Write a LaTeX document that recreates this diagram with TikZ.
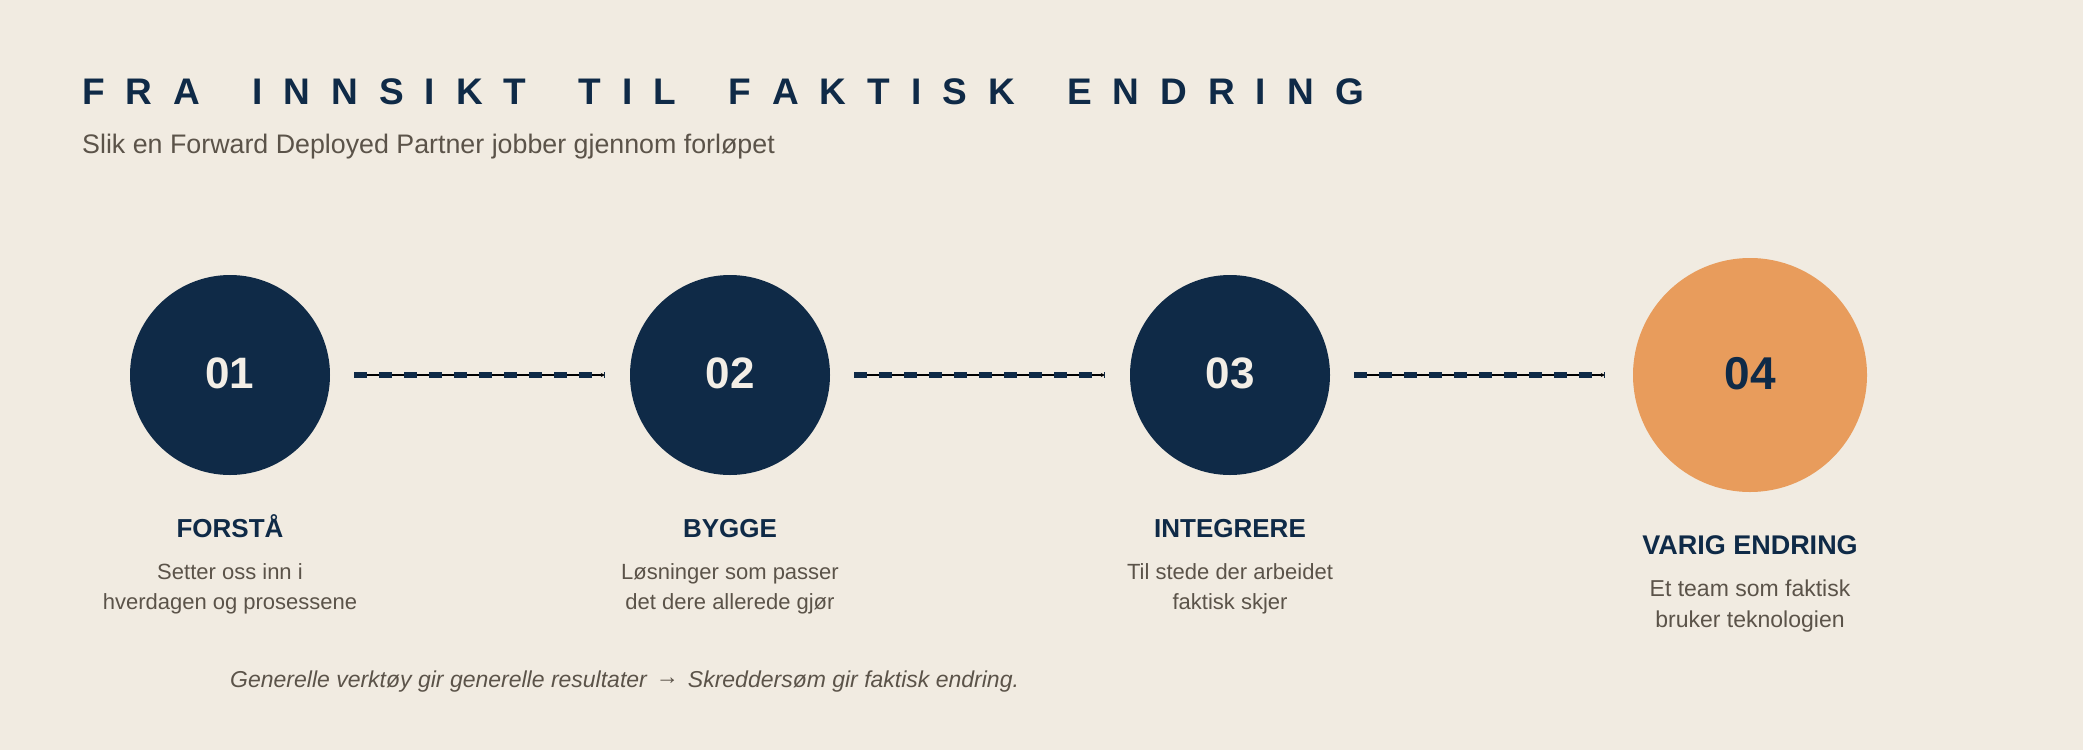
\documentclass[tikz,border=0pt]{standalone}
\usepackage{fontspec}
\setmainfont{Liberation Sans}
\usetikzlibrary{arrows.meta}
\definecolor{bg}{HTML}{F1EBE1}
\definecolor{navy}{HTML}{0F2A47}
\definecolor{orangeC}{HTML}{E89C5C}
\definecolor{grayT}{HTML}{5B5349}
\definecolor{creamT}{HTML}{F3EEE6}
\newcommand\trk[1]{\trkA#1\relax}
\def\trkA#1{\ifx\relax#1\else#1\kern21pt\expandafter\trkA\fi}
\newcommand\wsp{\kern0.278em\kern21pt}
\tikzset{
  fs/.style={font=\fontsize{#1}{#1}\selectfont},
  stepcirc/.style={circle, fill=navy, draw=none, inner sep=0pt, minimum size=200pt,
    text=creamT, font=\fontsize{44}{44}\selectfont\bfseries},
  lastcirc/.style={circle, fill=orangeC, draw=none, inner sep=0pt, minimum size=234pt,
    text=navy, font=\fontsize{46}{46}\selectfont\bfseries},
  steplabel/.style={anchor=base, inner sep=0pt, text=navy, font=\fontsize{26}{26}\selectfont\bfseries},
  stepdesc/.style={anchor=base, inner sep=0pt, text=grayT, font=\fontsize{22}{22}\selectfont},
  thinline/.style={draw=black, line width=1.4pt, -{Stealth[length=4pt,width=4pt]}},
  dashline/.style={draw=navy, line width=5.5pt, dash pattern=on 13pt off 12pt},
}
\begin{document}
\begin{tikzpicture}[x=1pt,y=-1pt]
\fill[bg] (0,0) rectangle (2083,750);
\useasboundingbox (0,0) rectangle (2083,750);

\node[anchor=base west, inner sep=0pt, text=navy, font=\fontsize{37}{37}\selectfont\bfseries] (title) at (82,104)
  {\trk{FRA}\wsp\trk{INNSIKT}\wsp\trk{TIL}\wsp\trk{FAKTISK}\wsp\trk{ENDRING}};
\node[anchor=base west, inner sep=0pt, text=grayT, fs=26.8] (subtitle) at (82,153)
  {Slik en Forward Deployed Partner jobber gjennom forløpet};

\node[stepcirc] (c1) at (230,375) {\raisebox{4pt}{01}};
\node[stepcirc] (c2) at (730,375) {\raisebox{4pt}{02}};
\node[stepcirc] (c3) at (1230,375) {\raisebox{4pt}{03}};
\node[lastcirc] (c4) at (1750,375) {\raisebox{4pt}{04}};

\draw[thinline, shorten <=24pt, shorten >=25pt] (c1) -- (c2);
\draw[dashline, shorten <=24pt, shorten >=25pt] (c1) -- (c2);
\draw[thinline, shorten <=24pt, shorten >=25pt] (c2) -- (c3);
\draw[dashline, shorten <=24pt, shorten >=25pt] (c2) -- (c3);
\draw[thinline, shorten <=24pt, shorten >=28pt] (c3) -- (c4);
\draw[dashline, shorten <=24pt, shorten >=28pt] (c3) -- (c4);

\node[steplabel] (l1) at (230,537) {FORSTÅ};
\node[stepdesc] (d1a) at (230,579) {Setter oss inn i};
\node[stepdesc] (d1b) at (230,609) {hverdagen og prosessene};

\node[steplabel] (l2) at (730,537) {BYGGE};
\node[stepdesc] (d2a) at (730,579) {Løsninger som passer};
\node[stepdesc] (d2b) at (730,609) {det dere allerede gjør};

\node[steplabel] (l3) at (1230,537) {INTEGRERE};
\node[stepdesc] (d3a) at (1230,579) {Til stede der arbeidet};
\node[stepdesc] (d3b) at (1230,609) {faktisk skjer};

\node[steplabel, font=\fontsize{27}{27}\selectfont\bfseries] (l4) at (1750,554) {VARIG ENDRING};
\node[stepdesc, font=\fontsize{23}{23}\selectfont] (d4a) at (1750,596) {Et team som faktisk};
\node[stepdesc, font=\fontsize{23}{23}\selectfont] (d4b) at (1750,627) {bruker teknologien};

\node[anchor=base west, inner sep=0pt, text=grayT, font=\fontsize{23}{23}\selectfont\itshape] (footer) at (230,687)
  {Generelle verktøy gir generelle resultater\hspace{9pt}\raisebox{3pt}{\upshape →}\hspace{9pt}Skreddersøm gir faktisk endring.};
\end{tikzpicture}
\end{document}
